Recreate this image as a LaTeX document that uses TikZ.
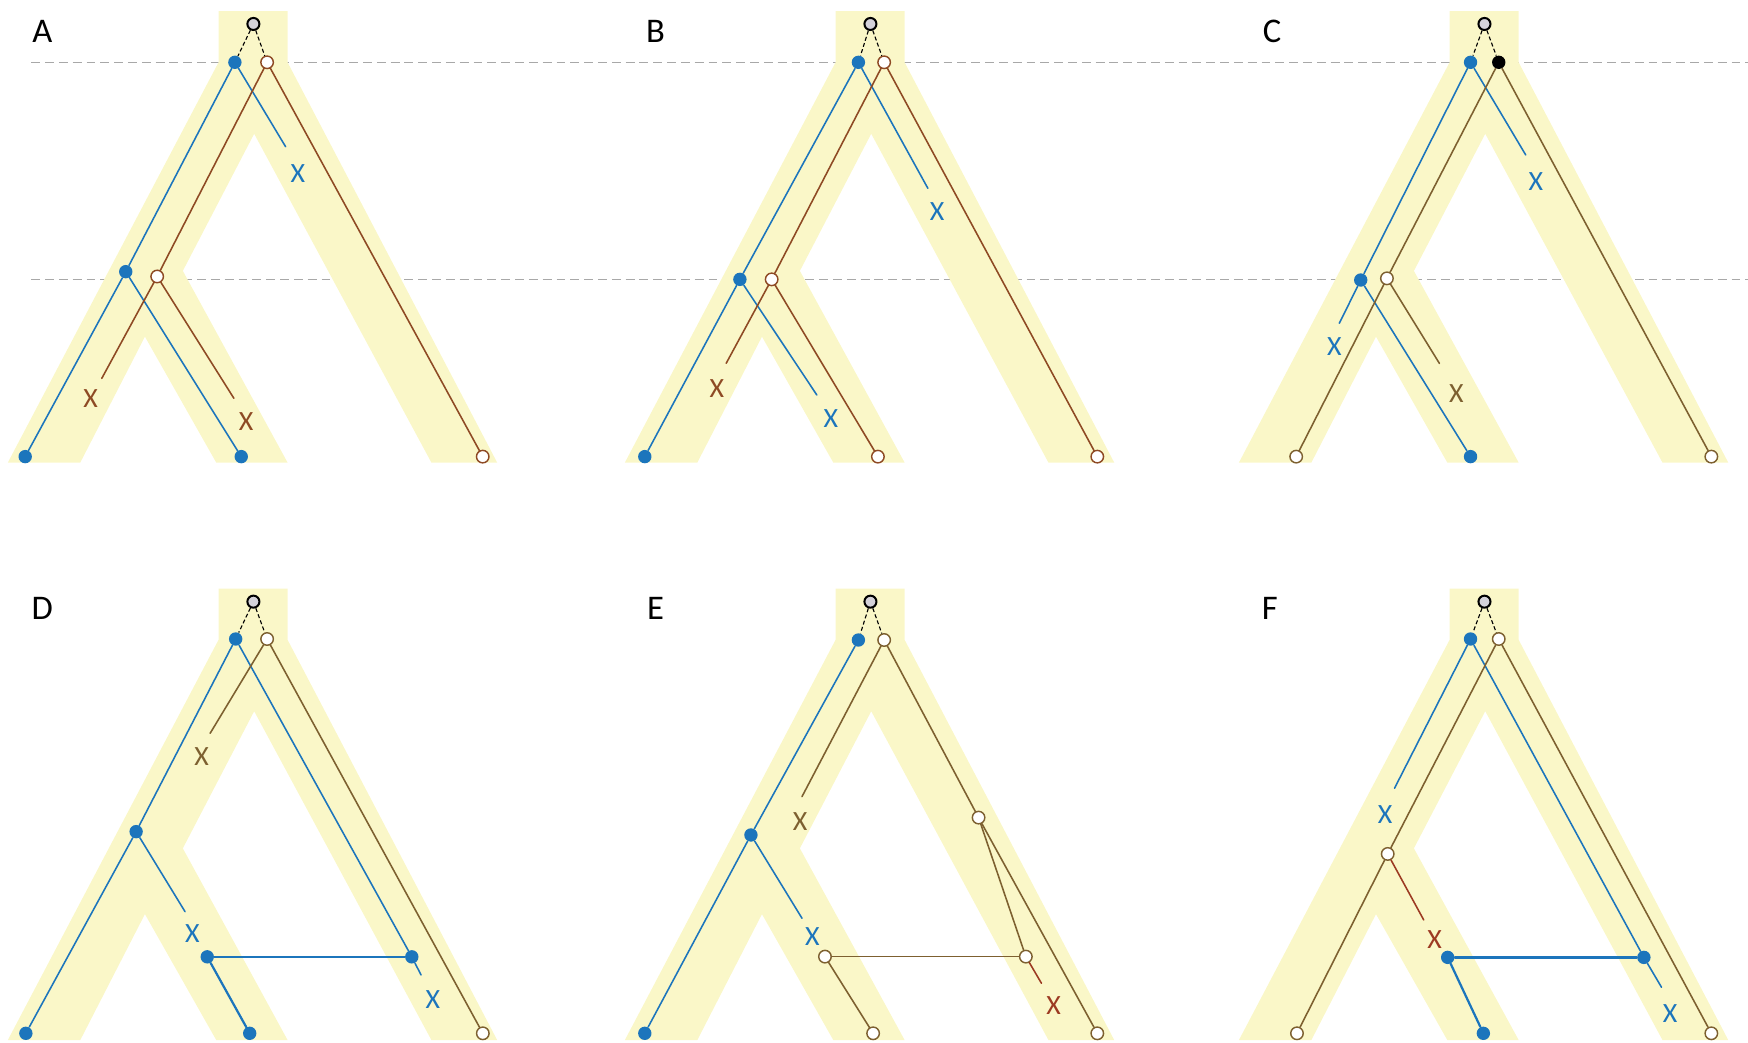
\documentclass[tikz,border=0pt]{standalone}
\usepackage{fontspec}
\setmainfont{Carlito}
\definecolor{ylw}{HTML}{FAF7C8}
\definecolor{gblue}{HTML}{1C75BC}
\definecolor{rbr}{HTML}{8E4A24}
\definecolor{olv}{HTML}{7D6030}
\definecolor{rx}{HTML}{9C3A22}
\definecolor{dsh}{HTML}{A8A8A8}
\definecolor{rootfill}{HTML}{D4D2DA}
\newcommand\yshape[2]{\fill[ylw, shift={(#1,#2)}] (196,10) -- (258,10) -- (258,56) -- (446,415) -- (387,415) -- (228,120) -- (164,243) -- (258,415) -- (194,415) -- (130,302) -- (72,415) -- (7,415) -- (196,56) -- cycle;}
\begin{document}
\begin{tikzpicture}[x=0.5pt,y=-0.5pt,
  gl/.style={line width=0.7pt, line cap=round},
  bl/.style={gl, draw=gblue},
  br/.style={gl, draw=rbr},
  ol/.style={gl, draw=olv},
  rl/.style={gl, draw=rx},
  thk/.style={line width=1pt},
  bdot/.style={circle, fill=gblue, inner sep=0pt, minimum size=6pt},
  odot/.style={circle, fill=white, draw=#1, line width=0.65pt, inner sep=0pt, minimum size=5.6pt},
  kdot/.style={circle, fill=black, inner sep=0pt, minimum size=6pt},
  rdot/.style={circle, fill=rootfill, draw=black, line width=0.9pt, inner sep=0pt, minimum size=5.4pt},
  xlab/.style={font=\fontsize{12.5}{12.5}\selectfont, inner sep=0pt, text=#1},
  panellbl/.style={font=\fontsize{15.5}{15.5}\selectfont, inner sep=0pt},
  rootln/.style={line width=0.5pt, dash pattern=on 1.8pt off 1.1pt},
  timeln/.style={dash pattern=on 4pt off 2.2pt, line width=0.6pt, draw=dsh}]
\useasboundingbox (0,0) rectangle (1568,935);
% time lines (top row)
\coordinate (t1a) at (28,55.9); \coordinate (t1b) at (1568,55.9);
\coordinate (t2a) at (28,250.6); \coordinate (t2b) at (1568,250.6);
\draw[timeln] (t1a) -- (t1b);
\draw[timeln] (t2a) -- (t2b);
% species trees
\yshape{0}{0}
\yshape{553.5}{0}
\yshape{1104.3}{0}
\yshape{0}{518}
\yshape{553.5}{518}
\yshape{1104.3}{518}
% panel labels
\node[panellbl] (lA) at (38,28) {A};
\node[panellbl] (lB) at (588,28) {B};
\node[panellbl] (lC) at (1141,28) {C};
\node[panellbl] (lD) at (38,546) {D};
\node[panellbl] (lE) at (588,546) {E};
\node[panellbl] (lF) at (1139,546) {F};

% ---------- Panel A ----------
\node[rdot] (a0) at (227.3,21.5) {};
\node[bdot] (aT) at (210.7,55.9) {};
\node[odot=rbr] (aO1) at (239.6,55.9) {};
\node[bdot] (aM) at (112.8,243.7) {};
\node[odot=rbr] (aO2) at (141,248) {};
\node[bdot] (aL1) at (22.6,409.6) {};
\node[bdot] (aL2) at (216.4,409.6) {};
\node[odot=rbr] (aL3) at (433,409.6) {};
\coordinate (aE1) at (256.2,131.6);
\coordinate (aE2) at (91.3,339.4);
\coordinate (aE3) at (209.8,357.3);
\node[xlab=gblue] (aX1) at (267.2,155.5) {X};
\node[xlab=rbr] (aX2) at (81.3,357.3) {X};
\node[xlab=rbr] (aX3) at (220.7,378.2) {X};
\draw[rootln] (a0) -- (aT); \draw[rootln] (a0) -- (aO1);
\draw[bl] (aT) -- (aM); \draw[bl] (aM) -- (aL1); \draw[bl] (aM) -- (aL2); \draw[bl] (aT) -- (aE1);
\draw[br] (aO1) -- (aO2); \draw[br] (aO2) -- (aE2); \draw[br] (aO2) -- (aE3); \draw[br] (aO1) -- (aL3);

% ---------- Panel B ----------
\node[rdot] (b0) at (780.8,21.5) {};
\node[bdot] (bT) at (770,55.9) {};
\node[odot=rbr] (bO1) at (793.1,55.9) {};
\node[bdot] (bM) at (663.7,250.6) {};
\node[odot=rbr] (bO2) at (692.2,250.6) {};
\node[bdot] (bL1) at (578.4,409.6) {};
\node[odot=rbr] (bL2) at (787.5,409.6) {};
\node[odot=rbr] (bL3) at (984.3,409.6) {};
\coordinate (bE1) at (832.3,168.9);
\coordinate (bE2) at (651.4,325.9);
\coordinate (bE3) at (732.7,354.3);
\node[xlab=gblue] (bX1) at (840.6,189.9) {X};
\node[xlab=rbr] (bX2) at (643.1,348.3) {X};
\node[xlab=gblue] (bX3) at (745.3,375.2) {X};
\draw[rootln] (b0) -- (bT); \draw[rootln] (b0) -- (bO1);
\draw[bl] (bT) -- (bM); \draw[bl] (bM) -- (bL1); \draw[bl] (bT) -- (bE1); \draw[bl] (bM) -- (bE3);
\draw[br] (bO1) -- (bO2); \draw[br] (bO2) -- (bE2); \draw[br] (bO2) -- (bL2); \draw[br] (bO1) -- (bL3);

% ---------- Panel C ----------
\node[rdot] (c0) at (1331.6,21.5) {};
\node[bdot] (cT) at (1319.1,55.9) {};
\node[kdot] (cK) at (1344.4,55.9) {};
\node[bdot] (cM) at (1220.6,251.2) {};
\node[odot=olv] (cO2) at (1244.1,249.7) {};
\node[odot=olv] (cL1) at (1162.7,409.6) {};
\node[bdot] (cL2) at (1319.1,409.6) {};
\node[odot=olv] (cL3) at (1535.1,409.6) {};
\coordinate (cE1) at (1201.4,290);
\coordinate (cE2) at (1368.6,139);
\coordinate (cE3) at (1291.2,326);
\node[xlab=gblue] (cX1) at (1197,311) {X};
\node[xlab=gblue] (cX2) at (1377.7,163) {X};
\node[xlab=olv] (cX3) at (1306.4,352.8) {X};
\draw[rootln] (c0) -- (cT); \draw[rootln] (c0) -- (cK);
\draw[bl] (cT) -- (cM); \draw[bl] (cM) -- (cE1); \draw[bl] (cT) -- (cE2); \draw[bl] (cM) -- (cL2);
\draw[ol] (cK) -- (cO2); \draw[ol] (cO2) -- (cL1); \draw[ol] (cO2) -- (cE3); \draw[ol] (cK) -- (cL3);

% ---------- Panel D ----------
\node[rdot] (d0) at (227.3,539.7) {};
\node[bdot] (dT) at (211.4,573.2) {};
\node[odot=olv] (dO1) at (239.6,573.2) {};
\node[bdot] (dM) at (122.1,746) {};
\node[bdot] (dH) at (185.9,858.3) {};
\node[bdot] (dR) at (369.4,858.3) {};
\node[bdot] (dL1) at (23.2,926.9) {};
\node[bdot] (dL2) at (224,926.9) {};
\node[odot=olv] (dL3) at (433.1,926.9) {};
\coordinate (dE1) at (188.5,657.8);
\coordinate (dE2) at (166,817.8);
\coordinate (dE3) at (377.7,874.6);
\node[xlab=olv] (dX1) at (180.9,678.7) {X};
\node[xlab=gblue] (dX2) at (172.6,837.2) {X};
\node[xlab=gblue] (dX3) at (388.3,896.4) {X};
\draw[rootln] (d0) -- (dT); \draw[rootln] (d0) -- (dO1);
\draw[bl] (dT) -- (dM); \draw[bl] (dM) -- (dL1); \draw[bl] (dM) -- (dE2); \draw[bl] (dT) -- (dR);
\draw[bl] (dR) -- (dE3); \draw[bl, thk] (dH) -- (dR); \draw[bl, thk] (dH) -- (dL2);
\draw[ol] (dO1) -- (dE1); \draw[ol] (dO1) -- (dL3);

% ---------- Panel E ----------
\node[rdot] (e0) at (780.8,539.7) {};
\node[bdot] (eT) at (770,574.1) {};
\node[odot=olv] (eO1) at (793.1,574.1) {};
\node[bdot] (eM) at (673.6,749) {};
\node[odot=olv] (eP) at (877.8,733.4) {};
\node[odot=olv] (eQ) at (920.2,858.1) {};
\node[odot=olv] (eH) at (740,858.1) {};
\node[bdot] (eL1) at (578.4,926.9) {};
\node[odot=olv] (eL2) at (783.2,926.9) {};
\node[odot=olv] (eL3) at (984.3,926.9) {};
\coordinate (eE1) at (719.4,714.6);
\coordinate (eE2) at (719.4,823.7);
\coordinate (eE3) at (934.2,882);
\node[xlab=olv] (eX1) at (717.8,737) {X};
\node[xlab=gblue] (eX2) at (728.7,840.2) {X};
\node[xlab=rx] (eX3) at (945.1,902.4) {X};
\draw[rootln] (e0) -- (eT); \draw[rootln] (e0) -- (eO1);
\draw[bl] (eT) -- (eM); \draw[bl] (eM) -- (eL1); \draw[bl] (eM) -- (eE2);
\draw[ol] (eO1) -- (eE1); \draw[ol] (eO1) -- (eP); \draw[ol] (eP) -- (eL3); \draw[ol] (eP) -- (eQ);
\draw[ol] (eH) -- (eQ); \draw[ol] (eH) -- (eL2); \draw[rl] (eQ) -- (eE3);

% ---------- Panel F ----------
\node[rdot] (f0) at (1331.6,539.7) {};
\node[bdot] (fT) at (1319.1,573.2) {};
\node[odot=olv] (fO1) at (1344.4,573.2) {};
\node[odot=olv] (fO2) at (1244.8,766) {};
\node[bdot] (fH) at (1298.6,858.8) {};
\node[bdot] (fR) at (1474.6,858.8) {};
\node[odot=olv] (fL1) at (1163.4,926.9) {};
\node[bdot] (fL2) at (1330.6,926.9) {};
\node[odot=olv] (fL3) at (1535.1,926.9) {};
\coordinate (fE1) at (1250.9,707.1);
\coordinate (fE2) at (1277.1,825.2);
\coordinate (fE3) at (1490.4,885.6);
\node[xlab=gblue] (fX1) at (1242.4,731) {X};
\node[xlab=rx] (fX2) at (1286.8,843.2) {X};
\node[xlab=gblue] (fX3) at (1498.1,909) {X};
\draw[rootln] (f0) -- (fT); \draw[rootln] (f0) -- (fO1);
\draw[bl] (fT) -- (fE1); \draw[bl] (fT) -- (fR); \draw[bl] (fR) -- (fE3);
\draw[bl, thk] (fH) -- (fR); \draw[bl, thk] (fH) -- (fL2);
\draw[ol] (fO1) -- (fO2); \draw[ol] (fO2) -- (fL1); \draw[rl] (fO2) -- (fE2); \draw[ol] (fO1) -- (fL3);
\end{tikzpicture}
\end{document}
